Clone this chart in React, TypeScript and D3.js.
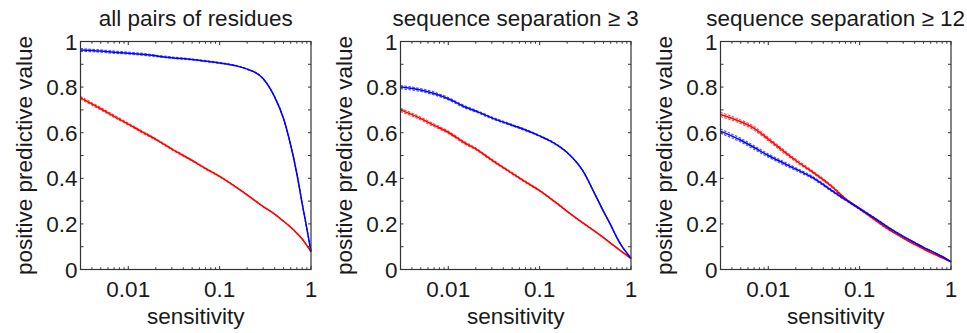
import React from 'react';
import * as d3 from 'd3';

const sensitivity = [0.003, 0.005, 0.007, 0.01, 0.015, 0.02, 0.03, 0.05, 0.07, 0.1, 0.15, 0.2, 0.3, 0.4, 0.5, 0.6, 0.7, 0.8, 0.9, 1];

const titles = ['all pairs of residues', 'sequence separation \u2265 3', 'sequence separation \u2265 12'];

const allPairsBlue = [0.963, 0.958, 0.953, 0.949, 0.943, 0.937, 0.929, 0.921, 0.914, 0.906, 0.894, 0.879, 0.837, 0.757, 0.662, 0.545, 0.42, 0.29, 0.18, 0.078];
const allPairsRed = [0.753, 0.705, 0.672, 0.638, 0.598, 0.571, 0.528, 0.478, 0.443, 0.408, 0.362, 0.327, 0.276, 0.243, 0.212, 0.185, 0.159, 0.134, 0.106, 0.078];
const sep3Blue = [0.8, 0.787, 0.772, 0.749, 0.714, 0.695, 0.665, 0.633, 0.612, 0.586, 0.55, 0.513, 0.43, 0.333, 0.255, 0.195, 0.14, 0.1, 0.073, 0.048];
const sep3Red = [0.7, 0.662, 0.632, 0.602, 0.556, 0.529, 0.48, 0.422, 0.384, 0.346, 0.294, 0.255, 0.203, 0.168, 0.14, 0.115, 0.095, 0.077, 0.062, 0.048];
const sep12Blue = [0.607, 0.567, 0.535, 0.5, 0.465, 0.44, 0.405, 0.345, 0.306, 0.267, 0.222, 0.188, 0.145, 0.118, 0.097, 0.082, 0.069, 0.057, 0.045, 0.034];
const sep12Red = [0.68, 0.648, 0.619, 0.572, 0.516, 0.478, 0.43, 0.363, 0.31, 0.266, 0.215, 0.18, 0.138, 0.11, 0.09, 0.074, 0.062, 0.051, 0.042, 0.034];

// half width of the spread band drawn around each curve
const allPairsSpread = [0.006, 0.005, 0.005, 0.004, 0.004, 0.003, 0.003, 0.002, 0.002, 0.002, 0.001, 0.001, 0.001, 0, 0, 0, 0, 0, 0, 0];
const sep3Spread = [0.007, 0.006, 0.006, 0.005, 0.005, 0.004, 0.004, 0.003, 0.003, 0.002, 0.002, 0.001, 0.001, 0.001, 0, 0, 0, 0, 0, 0];
const sep12Spread = [0.009, 0.008, 0.008, 0.007, 0.007, 0.006, 0.005, 0.004, 0.003, 0.003, 0.002, 0.002, 0.001, 0.001, 0, 0, 0, 0, 0, 0];

const xDomain = [0.003, 1];
const xTickValues = [0.01, 0.1, 1];
const xTickLabels = ['0.01', '0.1', '1'];
const yTickValues = [0, 0.1, 0.2, 0.3, 0.4, 0.5, 0.6, 0.7, 0.8, 0.9, 1];
const yLabelValues = [0, 0.2, 0.4, 0.6, 0.8, 1];
const yLabelTexts = ['0', '0.2', '0.4', '0.6', '0.8', '1'];

const BLUE = '#0000ff';
const RED = '#ff0000';
const FONT = '"Liberation Sans", Arial, Helvetica, sans-serif';
const AXIS = '#333333';
const TEXT = '#1a1a1a';

const panels = [
  { title: titles[0], blue: allPairsBlue, red: allPairsRed, spread: allPairsSpread, left: 80.5 },
  { title: titles[1], blue: sep3Blue, red: sep3Red, spread: sep3Spread, left: 400.5 },
  { title: titles[2], blue: sep12Blue, red: sep12Red, spread: sep12Spread, left: 720.5 },
];

const PW = 230.5;
const TOP = 41.5;
const BOTTOM = 269.5;

function Panel({ p }: { p: typeof panels[number] }) {
  const x = d3.scaleLog().domain(xDomain).range([p.left, p.left + PW]);
  const y = d3.scaleLinear().domain([0, 1]).range([BOTTOM, TOP]);
  const line = d3
    .line<number>()
    .x((_, i) => x(sensitivity[i]))
    .y((d) => y(d))
    .curve(d3.curveMonotoneX);
  const minor = x.ticks();
  const cx = p.left + PW / 2;
  const series = [
    { vals: p.red, color: RED },
    { vals: p.blue, color: BLUE },
  ];
  return (
    <g>
      {series.map((s, k) => (
        <g key={k} fill="none" stroke={s.color}>
          <path d={line(s.vals.map((v, i) => v + p.spread[i])) || ''} strokeWidth={1.2} strokeDasharray="2.5,1.5" opacity={0.7} />
          <path d={line(s.vals.map((v, i) => v - p.spread[i])) || ''} strokeWidth={1.2} strokeDasharray="2.5,1.5" opacity={0.7} />
          <path d={line(s.vals) || ''} strokeWidth={1.5} />
        </g>
      ))}
      <rect x={p.left} y={TOP} width={PW} height={BOTTOM - TOP} fill="none" stroke={AXIS} strokeWidth={1.2} />
      {minor.map((t, i) => {
        const major = xTickValues.some((m) => Math.abs(m - t) < 1e-9);
        const len = major ? 3.5 : 2.2;
        return (
          <g key={'xt' + i} stroke={AXIS} strokeWidth={1}>
            <line x1={x(t)} x2={x(t)} y1={BOTTOM} y2={BOTTOM - len} />
            <line x1={x(t)} x2={x(t)} y1={TOP} y2={TOP + len} />
          </g>
        );
      })}
      {yTickValues.map((t, i) => (
        <g key={'yt' + i} stroke={AXIS} strokeWidth={1}>
          <line x1={p.left} x2={p.left + 3} y1={y(t)} y2={y(t)} />
          <line x1={p.left + PW} x2={p.left + PW - 3} y1={y(t)} y2={y(t)} />
        </g>
      ))}
      <g fontFamily={FONT} fontSize={22.5} fill={TEXT}>
        {xTickValues.map((t, i) => (
          <text key={'xl' + i} x={x(t)} y={296.5} textAnchor="middle">
            {xTickLabels[i]}
          </text>
        ))}
        {yLabelValues.map((t, i) => (
          <text key={'yl' + i} x={p.left - 3} y={y(t) + 8} textAnchor="end">
            {yLabelTexts[i]}
          </text>
        ))}
        <text x={cx} y={26} textAnchor="middle">
          {p.title}
        </text>
        <text x={cx} y={324} textAnchor="middle">
          sensitivity
        </text>
        <text
          x={0}
          y={0}
          textAnchor="middle"
          transform={`translate(${p.left - 48.5},${(TOP + BOTTOM) / 2}) rotate(-90)`}
        >
          positive predictive value
        </text>
      </g>
    </g>
  );
}

export default function App() {
  return (
    <svg
      width={967}
      height={333}
      viewBox="0 0 967 333"
      style={{ position: 'absolute', left: 0, top: 0, background: '#fff' }}
    >
      <rect x={0} y={0} width={967} height={333} fill="#fff" />
      {panels.map((p, i) => (
        <Panel key={i} p={p} />
      ))}
    </svg>
  );
}
